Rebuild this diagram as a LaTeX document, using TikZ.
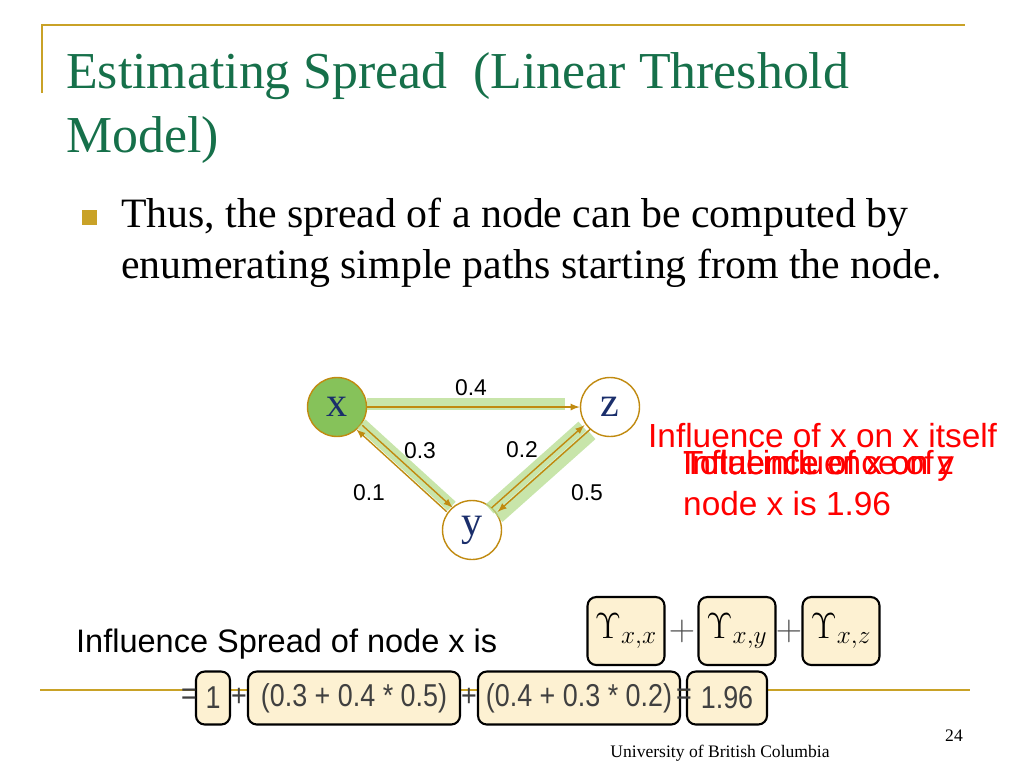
\documentclass[tikz,border=0pt]{standalone}
\usepackage{fontspec}
\setmainfont{Liberation Serif}
\setsansfont{Liberation Sans}
\newfontfamily\narrowsans[FakeStretch=0.85]{Liberation Sans}
\usetikzlibrary{arrows,positioning,calc}
\definecolor{gold}{HTML}{C9A227}
\definecolor{titlegreen}{HTML}{16704A}
\definecolor{nodegreen}{HTML}{86C25A}
\definecolor{edgebrown}{HTML}{C08A10}
\definecolor{hlgreen}{HTML}{B5DC8E}
\definecolor{boxfill}{HTML}{FDF1D2}
\definecolor{letterblue}{HTML}{1A2E6B}
\begin{document}
\begin{tikzpicture}[x=0.02cm, y=-0.02cm]
  \tikzstyle{vertex} = [circle, draw=edgebrown, thick, minimum size=1.18cm,
                        inner sep=0pt, font=\fontsize{24}{24}\selectfont\color{letterblue}]
  \tikzstyle{edge} = [draw=edgebrown, thick, -latex]
  \tikzstyle{hl} = [draw=hlgreen, line width=0.24cm, opacity=0.75]
  \tikzstyle{wt} = [font=\sffamily\fontsize{13}{13}\selectfont]
  \tikzstyle{note} = [text=red, font=\sffamily\fontsize{19}{19}\selectfont, anchor=base west]
  \tikzstyle{term} = [draw, very thick, rounded corners=5pt, fill=boxfill,
                      inner sep=2pt, minimum height=1.06cm]
  \tikzstyle{eq} = [font=\narrowsans\fontsize{18}{18}\selectfont, text=black!75]
  \useasboundingbox (0,0) rectangle (1024,768);
  % slide frame
  \draw[gold, thick] (42,93) -- (42,25) -- (965,25);
  \draw[gold, thick] (40,690) -- (970,690);
  \node[anchor=base west, text=titlegreen, font=\fontsize{29.5}{29.5}\selectfont]
        (title) at (60,88) {Estimating Spread\ \ (Linear Threshold};
  \node[anchor=base west, text=titlegreen, font=\fontsize{29.5}{29.5}\selectfont]
        (title2) at (60,152) {Model)};
  \fill[gold] (82,210) rectangle (97,225);
  \node[anchor=base west, font=\fontsize{23.8}{23.8}\selectfont] (b1) at (115,227)
        {Thus, the spread of a node can be computed by};
  \node[anchor=base west, font=\fontsize{23.8}{23.8}\selectfont] (b2) at (115,278)
        {enumerating simple paths starting from the node.};
  % graph
  \node[vertex, fill=nodegreen] (x) at (337,407) {x};
  \node[vertex] (z) at (610,407) {z};
  \node[vertex] (y) at (472,530) {y};
  \draw[hl] ($(x.east)+(0,-3)$) -- ($(z.west)+(-15,-3)$);
  \draw[hl, transform canvas={shift={(0.04cm,0.07cm)}}] (x) -- (y);
  \draw[hl, transform canvas={shift={(-0.1cm,0.02cm)}}] (y) -- (z);
  \draw[hl, transform canvas={shift={(0.08cm,-0.15cm)}}] (z) -- (y);
  \path[edge] (x) -- (z);
  \path[edge, transform canvas={shift={(0.06cm,0.04cm)}}] (x) -- (y);
  \path[edge, transform canvas={shift={(-0.06cm,-0.04cm)}}] (y) -- (x);
  \path[edge, transform canvas={shift={(-0.06cm,0.04cm)}}] (y) -- (z);
  \path[edge, transform canvas={shift={(0.06cm,-0.04cm)}}] (z) -- (y);
  \node[wt] (w1) at (471,388) {0.4};
  \node[wt] (w2) at (420,451) {0.3};
  \node[wt] (w3) at (522,450) {0.2};
  \node[wt] (w4) at (369,493) {0.1};
  \node[wt] (w5) at (587,493) {0.5};
  % overlapping notes
  \node[note] (n1) at (642,447) {Influence of x on x itself};
  \node[note] (n2) at (677,474) {Influence of x on y};
  \node[note] (n3) at (677,474) {Influence of x on z};
  \node[note] (n4) at (677,474) {Total influence of};
  \node[note] (n5) at (677,515) {node x is 1.96};
  % sum
  \node[anchor=base west, font=\sffamily\fontsize{18.5}{18.5}\selectfont] (lbl) at (70,652)
        {Influence Spread of node x is};
  \node[term, minimum width=1.54cm, minimum height=1.36cm, font=\fontsize{22}{22}\selectfont]
        (u1) at (626,631) {$\Upsilon_{x,x}$};
  \node[term, minimum width=1.54cm, minimum height=1.36cm, font=\fontsize{22}{22}\selectfont]
        (u2) at (737,631) {$\Upsilon_{x,y}$};
  \node[term, minimum width=1.54cm, minimum height=1.36cm, font=\fontsize{22}{22}\selectfont]
        (u3) at (841,631) {$\Upsilon_{x,z}$};
  \node[font=\fontsize{22}{22}\selectfont, text=black!70] (p1) at (682,631) {$+$};
  \node[font=\fontsize{22}{22}\selectfont, text=black!70] (p2) at (789,631) {$+$};
  \node[term, eq, minimum width=0.68cm] (t1) at (213,698) {1};
  \node[term, eq, minimum width=4.24cm] (t2) at (354,698) {(0.3 + 0.4 * 0.5)};
  \node[term, eq, minimum width=4.04cm] (t3) at (579,698) {(0.4 + 0.3 * 0.2)};
  \node[term, eq, minimum width=1.6cm] (t4) at (727,698) {1.96};
  \node[eq, inner sep=0pt] (e1) at (189,697) {=};
  \node[eq, inner sep=0pt] (e2) at (239,697) {+};
  \node[eq, inner sep=0pt] (e3) at (469,697) {+};
  \node[eq, inner sep=0pt] (e4) at (684,697) {=};
  % footer
  \node[font=\fontsize{10}{10}\selectfont] (foot) at (720,753) {University of British Columbia};
  \node[font=\fontsize{10}{10}\selectfont] (page) at (954,736) {24};
\end{tikzpicture}
\end{document}
